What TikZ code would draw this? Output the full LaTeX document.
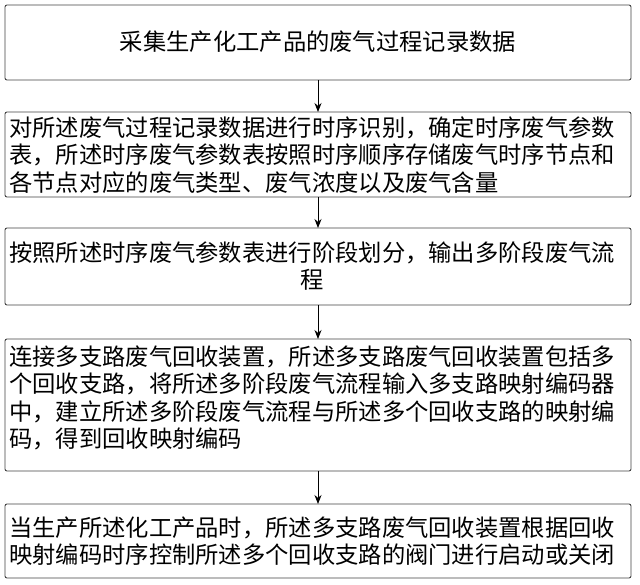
\documentclass[tikz,border=0pt]{standalone}
\usepackage{fontspec}
\newfontfamily\cjk{Noto Sans CJK SC}
\usetikzlibrary{arrows.meta}
\begin{document}
\begin{tikzpicture}[x=1pt,y=-1pt,
  box/.style={draw=black!75,line width=0.9pt,rounded corners=2pt},
  txt/.style={font=\cjk\fontsize{23.3}{27.5}\selectfont,inner sep=0pt},
  arr/.style={-{Stealth[length=9pt,width=7pt]},line width=0.9pt}]
\useasboundingbox (0,0) rectangle (640,584);
\draw[box] (5,5) rectangle (631,80);
\draw[box] (5,112) rectangle (631,197);
\draw[box] (5,228) rectangle (631,305);
\draw[box] (5,339) rectangle (631,471);
\draw[box] (5,504) rectangle (631,578);
\node[txt] (t1) at (318,42) {采集生产化工产品的废气过程记录数据};
\node[txt,align=left,anchor=west] (t2) at (9,155) {对所述废气过程记录数据进行时序识别，确定时序废气参数\\表，所述时序废气参数表按照时序顺序存储废气时序节点和\\各节点对应的废气类型、废气浓度以及废气含量};
\node[txt,align=center,anchor=west] (t3) at (9,266) {按照所述时序废气参数表进行阶段划分，输出多阶段废气流\\程};
\node[txt,align=left,anchor=west] (t4) at (9,398) {连接多支路废气回收装置，所述多支路废气回收装置包括多\\个回收支路，将所述多阶段废气流程输入多支路映射编码器\\中，建立所述多阶段废气流程与所述多个回收支路的映射编\\码，得到回收映射编码};
\node[txt,align=left,anchor=west] (t5) at (9,541) {当生产所述化工产品时，所述多支路废气回收装置根据回收\\映射编码时序控制所述多个回收支路的阀门进行启动或关闭};
\coordinate (a1) at (318,80); \coordinate (b1) at (318,112);
\coordinate (a2) at (318,197); \coordinate (b2) at (318,228);
\coordinate (a3) at (318,305); \coordinate (b3) at (318,339);
\coordinate (a4) at (318,471); \coordinate (b4) at (318,504);
\draw[arr] (a1) -- (b1);
\draw[arr] (a2) -- (b2);
\draw[arr] (a3) -- (b3);
\draw[arr] (a4) -- (b4);
\end{tikzpicture}
\end{document}
